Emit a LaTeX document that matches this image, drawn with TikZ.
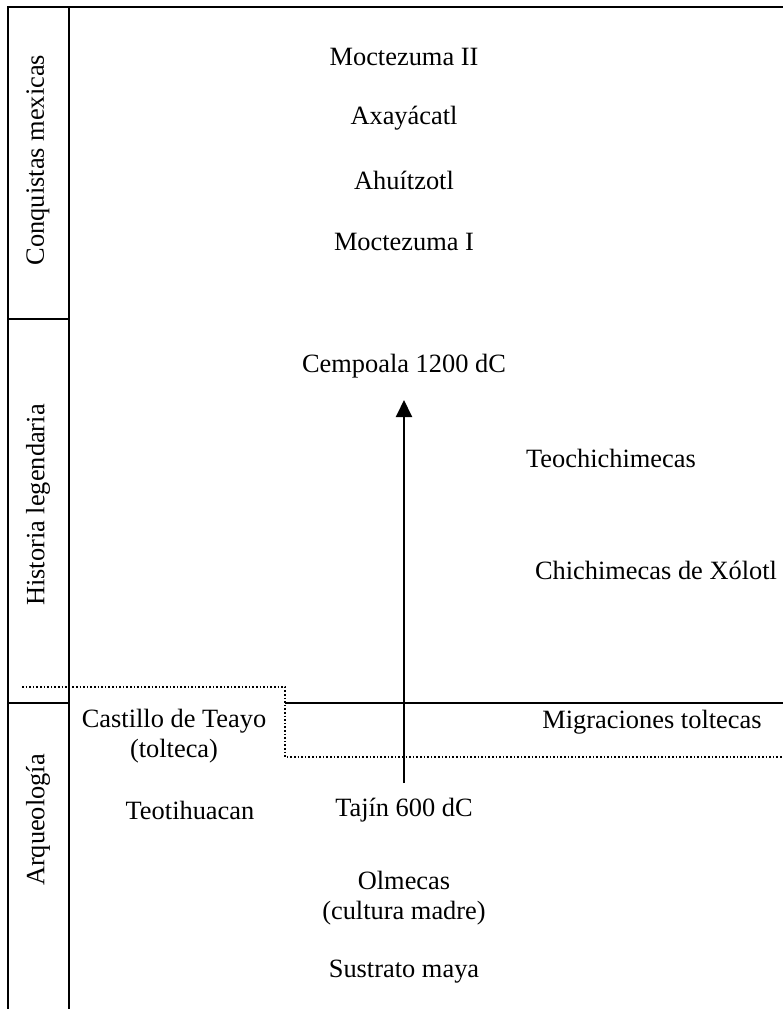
\documentclass[tikz,border=0pt]{standalone}
\usepackage{fontspec}
\setmainfont{Liberation Serif}
\usetikzlibrary{arrows.meta}
\begin{document}
\begin{tikzpicture}[x=1pt,y=-1pt,
  frame/.style={line width=2pt},
  sep/.style={line width=1.6pt,dotted},
  lbl/.style={font=\fontsize{26.4}{30}\selectfont,inner sep=0pt,align=center},
  side/.style={lbl,rotate=90},
  flow/.style={line width=2pt,-{Triangle[length=17pt,width=16pt]}}]
\useasboundingbox (0,0) rectangle (783,1009);
% period column
\draw[frame] (8,1009) -- (8,7) -- (783,7);
\draw[frame] (68.5,7) -- (68.5,1009);
\draw[frame] (8,319) -- (68.5,319);
\draw[frame] (8,703) -- (68.5,703);
\draw[frame] (285,703) -- (783,703);
% boundary of the archaeological record
\draw[sep] (22,687) -- (285,687) -- (285,757) -- (783,757);
% period names
\node[side] (conq) at (38,160) {Conquistas mexicas};
\node[side] (hist) at (38,505) {Historia legendaria};
\node[side] (arq)  at (38,820) {Arqueología};
% rulers
\node[lbl] (m2)  at (404,57)  {Moctezuma II};
\node[lbl] (axa) at (404,118) {Axayácatl};
\node[lbl] (ahu) at (404,180) {Ahuítzotl};
\node[lbl] (m1)  at (404,242) {Moctezuma I};
% legendary history
\node[lbl] (cemp) at (404,366) {Cempoala 1200 dC};
\node[lbl] (teoch) at (611,458) {Teochichimecas};
\node[lbl] (xol) at (656,570) {Chichimecas de Xólotl};
\node[lbl] (migr) at (652,722) {Migraciones toltecas};
% archaeology
\node[lbl] (teayo) at (174,736) {Castillo de Teayo\\(tolteca)};
\node[lbl] (teot) at (190,810) {Teotihuacan};
\node[lbl] (tajin) at (404,810) {Tajín 600 dC};
\node[lbl] (olm) at (404,898) {Olmecas\\(cultura madre)};
\node[lbl] (maya) at (404,972) {Sustrato maya};
% development from Tajín to Cempoala
\coordinate (aS) at (404,783);
\coordinate (aE) at (404,400);
\draw[flow] (aS) -- (aE);
\end{tikzpicture}
\end{document}
